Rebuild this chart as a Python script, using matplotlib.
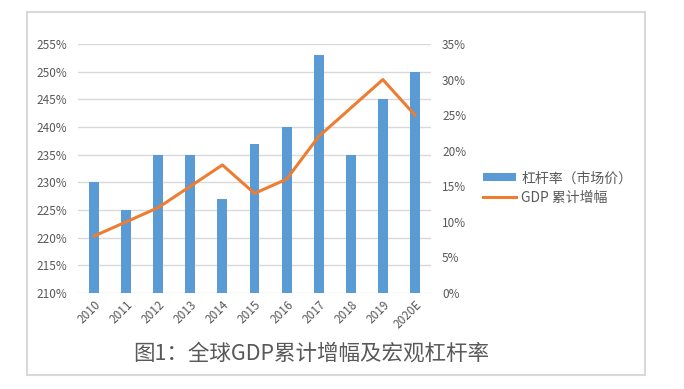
import matplotlib
matplotlib.use('Agg')
import matplotlib.pyplot as plt
from matplotlib.patches import Rectangle
from matplotlib.ticker import FuncFormatter
import numpy as np

plt.rcParams['font.family'] = ['Noto Sans CJK SC', 'DejaVu Sans']

# Data
years = ['2010', '2011', '2012', '2013', '2014', '2015', '2016', '2017', '2018', '2019', '2020E']
leverage = [230, 225, 235, 235, 227, 237, 240, 253, 235, 245, 250]
gdp_growth = [8, 10, 12, 15, 18, 14, 16, 22, 26, 30, 25]

bar_c = '#5B9BD5'
line_c = '#ED7D31'
grid_c = '#D9D9D9'
txt_c = '#595959'

fig = plt.figure(figsize=(6.84, 3.89), dpi=100)
fig.patch.set_facecolor('white')

# Outer frame
fig.patches.append(Rectangle((27/684, 1-375/389), (645-27)/684, (375-12)/389,
                             transform=fig.transFigure, fill=False,
                             edgecolor=grid_c, lw=1.5))

ax = fig.add_axes([78/684, 1-293/389, (431-78)/684, (293-44)/389])
x = np.arange(len(years))
ax.bar(x, leverage, width=0.31, color=bar_c, zorder=2, label='杠杆率（市场价）')
ax.set_ylim(210, 255)
ax.set_yticks(np.arange(210, 256, 5))
ax.yaxis.set_major_formatter(FuncFormatter(lambda v, p: f'{v:.0f}%'))
ax.set_xlim(-0.5, len(years) - 0.5)
ax.set_xticks(x)
ax.set_xticklabels(years, rotation=45, ha='right', rotation_mode='anchor')
ax.grid(axis='y', color=grid_c, lw=1, zorder=0)
ax.set_axisbelow(True)
for s in ax.spines.values():
    s.set_visible(False)
ax.tick_params(length=0, colors=txt_c, labelsize=8.5)
ax.tick_params(axis='y', pad=8)
ax.tick_params(axis='x', pad=4)

ax2 = ax.twinx()
ax2.plot(x, gdp_growth, color=line_c, lw=2.2, zorder=3, label='GDP 累计增幅')
ax2.set_ylim(0, 35)
ax2.set_yticks(np.arange(0, 36, 5))
ax2.yaxis.set_major_formatter(FuncFormatter(lambda v, p: f'{v:.0f}%'))
for s in ax2.spines.values():
    s.set_visible(False)
ax2.tick_params(length=0, colors=txt_c, labelsize=8.5, pad=8)

# Legend
h1, l1 = ax.get_legend_handles_labels()
h2, l2 = ax2.get_legend_handles_labels()
fig.legend(h1 + h2, l1 + l2, loc='center left', bbox_to_anchor=(470/684, 1-188/389),
           frameon=False, fontsize=10, labelcolor=txt_c, handlelength=2.4,
           handleheight=0.5, labelspacing=0.4, handletextpad=0.4)

# Caption
fig.text(311/684, 1-354/389, '图1：全球GDP累计增幅及宏观杠杆率', fontsize=15.5,
         color=txt_c, ha='center', va='center')

fig.savefig('out.png', dpi=100)
